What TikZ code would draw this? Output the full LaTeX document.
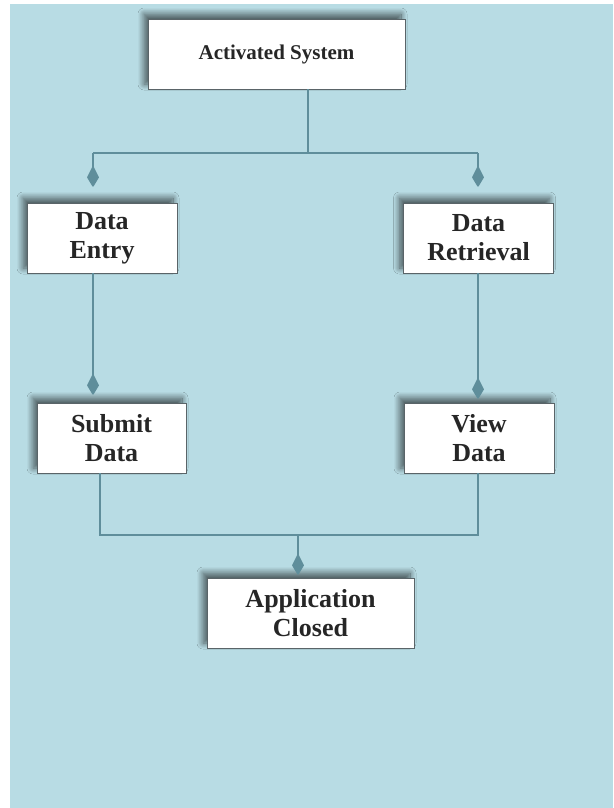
\documentclass[tikz,border=0pt]{standalone}
\usepackage{fontspec}
\setmainfont{Liberation Serif}
\usetikzlibrary{arrows.meta,shadows.blur,calc}

\definecolor{bgblue}{HTML}{B8DCE4}
\definecolor{linkcol}{HTML}{5F8E9B}
\definecolor{boxedge}{HTML}{5A6468}

\tikzset{
  box/.style={draw=boxedge, line width=0.9pt, fill=white, inner sep=0pt,
    minimum height=70pt, align=center, text=black!85,
    font=\bfseries\fontsize{26}{29}\selectfont,
    blur shadow={shadow xshift=-4pt, shadow yshift=5pt,
      shadow blur radius=6pt, shadow opacity=60, shadow blur steps=14}},
  conn/.style={draw=linkcol, line width=1.8pt},
  arr/.style={conn, -{Kite[length=22pt, width=12pt, inset=12pt, round]}},
}

\begin{document}
\begin{tikzpicture}[x=1pt, y=-1pt]
  % canvas and backdrop
  \useasboundingbox (0,0) rectangle (613,808);
  \fill[white] (0,0) rectangle (613,808);
  \fill[bgblue] (10,4) rectangle (613,808);

  % process boxes
  \node[box, minimum width=257pt, font=\bfseries\fontsize{21}{25}\selectfont]
    (act) at (276.5,54) {Activated System};
  \node[box, minimum width=150pt] (entry) at (102,238) {Data\\Entry};
  \node[box, minimum width=150pt] (retr) at (478.5,238) {Data\\Retrieval};
  \node[box, minimum width=149pt] (submit) at (111.5,438) {Submit\\Data};
  \node[box, minimum width=150pt] (view) at (479,438) {View\\Data};
  \node[box, minimum width=207pt] (closed) at (310.5,613) {Application\\Closed};

  % branching points
  \coordinate (split) at (308,153);
  \coordinate (jl) at (93,153);
  \coordinate (jr) at (478,153);
  \coordinate (ml) at (100,535);
  \coordinate (mr) at (478,535);
  \coordinate (merge) at (298,535);

  % fan-out from the start box
  \draw[conn] (act.south -| split) -- (split);
  \draw[conn] (jl) -- (jr);
  \draw[arr, shorten >=16pt] (jl) -- (jl |- entry.north);
  \draw[arr, shorten >=16pt] (jr) -- (jr |- retr.north);

  % second stage
  \draw[arr, shorten >=8pt] (entry.south -| jl) -- (jl |- submit.north);
  \draw[arr, shorten >=4pt] (retr.south -| jr) -- (jr |- view.north);

  % merge into the closing box
  \draw[conn] (submit.south -| ml) -- (ml) -- (mr) -- (view.south -| mr);
  \draw[arr, shorten >=3pt] (merge) -- (merge |- closed.north);
\end{tikzpicture}
\end{document}
